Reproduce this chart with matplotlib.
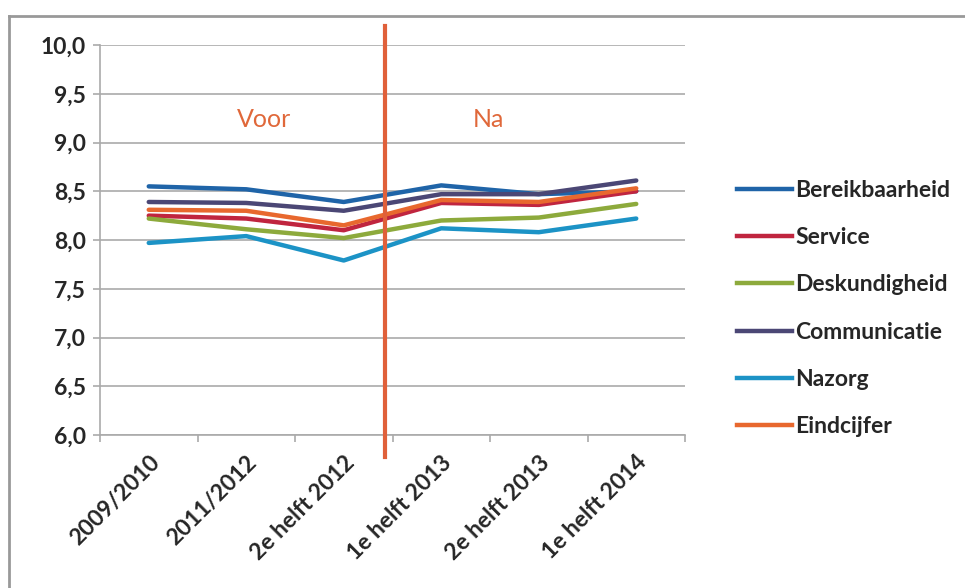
import matplotlib
matplotlib.use("Agg")
import matplotlib.pyplot as plt
from matplotlib.lines import Line2D

categories = ["2009/2010", "2011/2012", "2e helft 2012", "1e helft 2013", "2e helft 2013", "1e helft 2014"]
bereikbaarheid = [8.55, 8.52, 8.39, 8.56, 8.47, 8.50]
service = [8.25, 8.22, 8.10, 8.38, 8.36, 8.50]
deskundigheid = [8.22, 8.11, 8.02, 8.20, 8.23, 8.37]
communicatie = [8.39, 8.38, 8.30, 8.47, 8.47, 8.61]
nazorg = [7.97, 8.04, 7.79, 8.12, 8.08, 8.22]
eindcijfer = [8.31, 8.30, 8.15, 8.41, 8.39, 8.53]
y_ticks = [6.0, 6.5, 7.0, 7.5, 8.0, 8.5, 9.0, 9.5, 10.0]
y_tick_labels = ["6,0", "6,5", "7,0", "7,5", "8,0", "8,5", "9,0", "9,5", "10,0"]
divider_x = 2.42

series = [
    ("Bereikbaarheid", bereikbaarheid, "#1F64A8"),
    ("Service", service, "#C0253F"),
    ("Deskundigheid", deskundigheid, "#8DAA3C"),
    ("Communicatie", communicatie, "#4B4775"),
    ("Nazorg", nazorg, "#1C93C6"),
    ("Eindcijfer", eindcijfer, "#E8682E"),
]

plt.rcParams['font.family'] = ['Lato', 'DejaVu Sans']
FS = 16.5

W, H = 965, 588
fig = plt.figure(figsize=(W / 100, H / 100), dpi=100)
ax = fig.add_axes([100 / W, 1 - 435 / H, 585 / W, 390 / H])

x = list(range(len(categories)))
for name, vals, col in series:
    ax.plot(x, vals, color=col, lw=3.2, label=name, solid_capstyle='round')

ax.set_xlim(-0.5, len(categories) - 0.5)
ax.set_ylim(6.0, 10.0)
ax.set_yticks(y_ticks)
ax.set_yticklabels(y_tick_labels, fontsize=FS, fontweight='bold', color='#262626')
ax.yaxis.grid(True, color='#AAAAAA', lw=1.2)
ax.set_axisbelow(True)

ax.set_xticks(x)
ax.set_xticklabels(categories, rotation=45, ha='right', rotation_mode='anchor',
                   fontsize=FS, fontweight='bold', color='#262626')
ax.set_xticks([i - 0.5 for i in range(len(categories) + 1)], minor=True)
ax.tick_params(axis='x', which='major', length=0, pad=12)
ax.tick_params(axis='x', which='minor', length=5, color='#AAAAAA', width=1.2)
ax.tick_params(axis='y', length=5, color='#AAAAAA', width=1.2, pad=5)

for s in ['top', 'right']:
    ax.spines[s].set_visible(False)
for s in ['left', 'bottom']:
    ax.spines[s].set_color('#AAAAAA')
    ax.spines[s].set_linewidth(1.2)

# divider line
ax.plot([divider_x, divider_x], [5.77, 10.2], color='#E0603A', lw=3, clip_on=False, zorder=5)
ax.text(1.18, 9.24, "Voor", color='#E0683A', fontsize=18, ha='center', va='center')
ax.text(3.48, 9.24, "Na", color='#E0683A', fontsize=18, ha='center', va='center')

handles = [Line2D([0], [0], color=c, lw=3.2) for _, _, c in series]
labels = [n for n, _, _ in series]
fig.legend(handles, labels, loc='upper left', bbox_to_anchor=(716 / W, 1 - 159 / H),
           frameon=False, handlelength=2.4, handletextpad=0.15,
           labelspacing=1.15, prop={'size': FS, 'weight': 'bold'})
for t in fig.legends[0].get_texts():
    t.set_color('#262626')

# outer frame
fig.add_artist(Line2D([9 / W, 1], [1 - 16 / H, 1 - 16 / H], color='#999999', lw=2))
fig.add_artist(Line2D([9 / W, 9 / W], [0, 1 - 16 / H], color='#999999', lw=2))

fig.savefig("out.png", dpi=100, facecolor='white')
